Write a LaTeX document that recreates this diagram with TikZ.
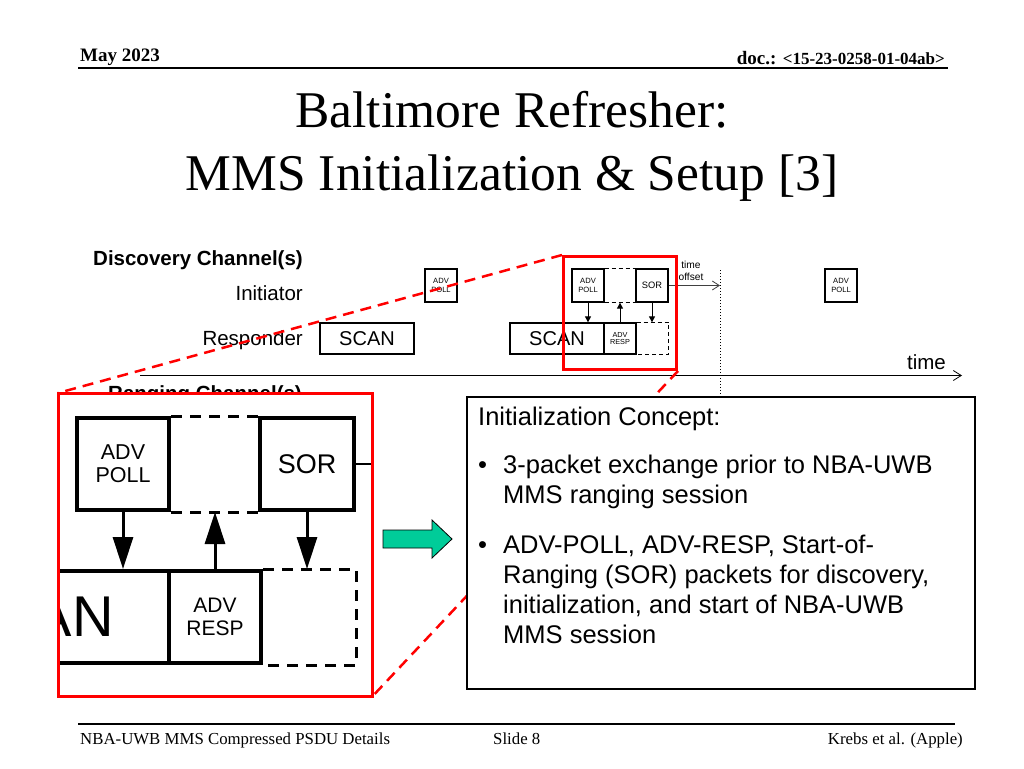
\documentclass[tikz,border=0pt]{standalone}
\usepackage{fontspec}
\setmainfont{Liberation Serif}
\setsansfont{Liberation Sans}
\usetikzlibrary{arrows.meta}
\definecolor{slidered}{RGB}{255,0,0}
\definecolor{arrowgreen}{RGB}{0,204,153}
\newcommand{\fsz}[2]{\fontsize{#1}{#2}\selectfont}
\newcommand{\toplines}[1]{\begin{tabular}[t]{@{}l@{}}#1\end{tabular}}

\begin{document}
\begin{tikzpicture}[x=1pt, y=-1pt,
    every node/.style={inner sep=0pt, font=\sffamily},
    pkt/.style={draw, line width=1.3pt, minimum width=32pt, minimum height=33pt,
      align=center, font=\sffamily\fsz{7.6}{8.2}},
    zpkt/.style={draw, line width=4pt, minimum width=92pt, minimum height=92pt,
      align=center, font=\sffamily\fsz{21.5}{23}},
    gap/.style={line width=0.9pt, dash pattern=on 4pt off 3pt},
    zgap/.style={line width=3pt, dash pattern=on 11pt off 8pt},
    msg/.style={-{Triangle[length=6pt,width=6pt]}, line width=1pt},
    zmsg/.style={-{Triangle[length=32pt,width=20pt]}, line width=3pt},
    hilite/.style={draw=slidered, line width=3pt},
    lead/.style={slidered, line width=2.5pt, dash pattern=on 11pt off 7pt},
    hdr/.style={font=\rmfamily\bfseries\fsz{19}{22}},
    ftr/.style={font=\rmfamily\fsz{16.8}{19}},
    lbl/.style={font=\sffamily\fsz{20.5}{24}},
    bold lbl/.style={font=\sffamily\bfseries\fsz{20.5}{24}},
    body/.style={font=\sffamily\fsz{25.5}{30}, anchor=base west}]
  \useasboundingbox[fill=white] (0,0) rectangle (1024,768);

  % header
  \node[hdr, anchor=base west] (date) at (80,61) {May 2023};
  \node[hdr, anchor=base east] (docno) at (945,64) {doc.: {\fsz{17}{20}<15-23-0258-01-04ab>}};
  \draw[line width=2pt] (78,68) -- (948,68);
  \node[font=\rmfamily\fsz{51.5}{62}, anchor=base] (title1) at (512,127) {Baltimore Refresher:};
  \node[font=\rmfamily\fsz{51.5}{62}, anchor=base] (title2) at (512,190) {MMS Initialization \& Setup [3]};

  % discovery channel
  \node[bold lbl, anchor=base west] (disc) at (93,265) {Discovery Channel(s)};
  \node[lbl, anchor=base east] (init) at (303,300) {Initiator};
  \node[lbl, anchor=base east] (resp) at (303,345) {Responder};

  \node[pkt] (poll1) at (441,285.5) {ADV\\POLL};
  \node[pkt] (poll2) at (588,285.5) {ADV\\POLL};
  \node[pkt, font=\sffamily\fsz{9.3}{10}] (sor) at (652,285.5) {SOR};
  \node[pkt] (poll3) at (841,285.5) {ADV\\POLL};
  \node[pkt, minimum width=94pt, minimum height=31pt, font=\sffamily\fsz{20}{22}] (scan1) at (367,338.5) {SCAN};
  \node[pkt, minimum width=94pt, minimum height=31pt, font=\sffamily\fsz{20}{22}] (scan2) at (557,338.5) {SCAN};
  \node[pkt, minimum height=31pt, font=\sffamily\fsz{7.3}{7.8}] (advresp) at (620,338.5) {ADV\\RESP};

  \draw[gap] (poll2.north east) -- (sor.north west) (poll2.south east) -- (sor.south west);
  \draw[gap] (advresp.north east) -- (sor.east |- advresp.north) -- (sor.east |- advresp.south) -- (advresp.south east);
  \draw[msg] (poll2.south) -- (poll2.south |- scan2.north);
  \draw[msg] (advresp.north) -- (advresp.north |- poll2.south);
  \draw[msg] (sor.south) -- (sor.south |- advresp.north);

  \coordinate (offset) at (720,285.5);
  \draw[-{Straight Barb[length=7pt,width=9pt]}, line width=0.8pt, black!75] (sor.east) -- (offset);
  \node[font=\sffamily\fsz{10.2}{11.5}, align=center] (offlbl) at (691,271) {time\\offset};
  \coordinate (tick top) at (720,270);
  \coordinate (tick bot) at (720,397);
  \draw[dotted, line width=1pt] (tick top) -- (tick bot);

  \coordinate (t0) at (140,375.5);
  \coordinate (t1) at (962,375.5);
  \draw[-{Straight Barb[length=8pt,width=10pt]}, line width=0.8pt] (t0) -- (t1);
  \node[lbl, anchor=base east] (timelbl) at (946,369) {time};

  \node[bold lbl, anchor=base west] (rang) at (108,400) {Ranging Channel(s)};

  % highlight and zoomed view
  \node[hilite, minimum width=113pt, minimum height=113pt, anchor=north west] (focus) at (562,255) {};
  \node[fill=white, minimum width=314pt, minimum height=303pt, anchor=north west] (lens) at (58,393) {};
  \begin{scope}
    \clip (lens.north west) rectangle (lens.south east);
    \node[zpkt] (zpoll) at (123,464) {ADV\\POLL};
    \node[zpkt, minimum width=94pt, font=\sffamily\fsz{27}{29}] (zsor) at (307,464) {SOR};
    \node[zpkt, minimum width=270pt, font=\sffamily\fsz{57.5}{60}] (zscan) at (34,617) {SCAN};
    \node[zpkt, font=\sffamily\fsz{21}{23}] (zresp) at (215,617) {ADV\\RESP};
    \draw[zgap] (zpoll.north east) -- (zsor.north west) (zpoll.south east) -- (zsor.south west);
    \draw[zgap] (zresp.north east) -- (zsor.east |- zresp.north) -- (zsor.east |- zresp.south) -- (zresp.south east);
    \draw[zmsg] (zpoll.south) -- (zpoll.south |- zscan.north);
    \draw[zmsg] (zresp.north) -- (zresp.north |- zpoll.south);
    \draw[zmsg] (zsor.south) -- (zsor.south |- zresp.north);
    \draw[line width=2.5pt] (zsor.east) -- (lens.east |- zsor.east);
  \end{scope}
  \draw[hilite] (lens.north west) rectangle (lens.south east);
  \draw[lead] (focus.north west) -- (lens.north west);
  \draw[lead] (focus.south east) -- (lens.south east);

  % green arrow
  \draw[fill=arrowgreen, line width=0.8pt] (383,530) -- (432,530) -- (432,520) -- (452,539)
    -- (432,558) -- (432,548) -- (383,548) -- cycle;

  % concept box
  \node[draw, line width=1.5pt, fill=white, minimum width=508pt, minimum height=292pt,
    anchor=north west] (concept) at (466,396) {};
  \node[body] (ctitle) at (478,425) {Initialization Concept:};
  \node[body] (dotA) at (478,473) {\textbullet};
  \node[body] (itemA) at (503,473) {\toplines{3-packet exchange prior to NBA-UWB\\MMS ranging session}};
  \node[body] (dotB) at (478,553) {\textbullet};
  \node[body] (itemB) at (503,553) {\toplines{ADV-POLL, ADV-RESP, Start-of-\\Ranging (SOR) packets for discovery,\\initialization, and start of NBA-UWB\\MMS session}};

  % footer
  \draw[line width=1.5pt] (78,724) -- (955,724);
  \node[ftr, anchor=base west] (ftleft) at (80,744) {NBA-UWB MMS Compressed PSDU Details};
  \node[ftr, anchor=base west] (ftmid) at (493,744) {Slide 8};
  \node[ftr, anchor=base east] (ftright) at (963,744) {Krebs et al. (Apple)};
\end{tikzpicture}
\end{document}
